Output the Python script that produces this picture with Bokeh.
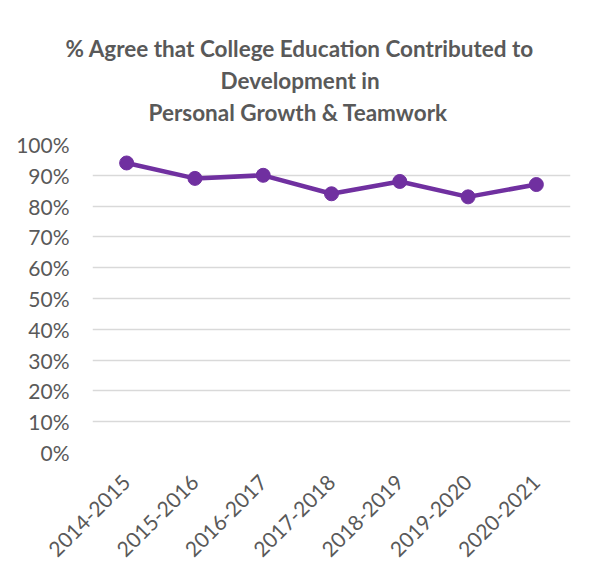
import math
from bokeh.plotting import figure
from bokeh.models import FactorRange, Range1d, NumeralTickFormatter, Title, FixedTicker
from bokeh.embed import file_html
from bokeh.resources import INLINE

years = ["2014-2015", "2015-2016", "2016-2017", "2017-2018", "2018-2019", "2019-2020", "2020-2021"]
agree = [0.94, 0.89, 0.90, 0.84, 0.88, 0.83, 0.87]
title_lines = ["% Agree that College Education Contributed to", "Development in", "Personal Growth & Teamwork"]

FONT = "Lato"
GRAY = "#595959"
PURPLE = "#7030A0"

p = figure(width=597, height=578, x_range=FactorRange(*years, range_padding=0),
           y_range=Range1d(0, 1), output_backend="svg", toolbar_location=None,
           min_border_left=92, min_border_right=27, min_border_top=144, min_border_bottom=126)
p.outline_line_color = None
p.background_fill_color = "white"
p.border_fill_color = "white"

p.line(years, agree, line_color=PURPLE, line_width=4.5)
p.scatter(years, agree, size=14, fill_color=PURPLE, line_color=PURPLE)

p.yaxis.ticker = FixedTicker(ticks=[i / 10 for i in range(11)])
p.yaxis.formatter = NumeralTickFormatter(format="0%")
for ax in (p.xaxis[0], p.yaxis[0]):
    ax.axis_line_color = None
    ax.major_tick_line_color = None
    ax.minor_tick_line_color = None
    ax.major_label_text_color = GRAY
    ax.major_label_text_font = FONT
    ax.major_label_text_font_size = "21px"
p.yaxis.major_label_standoff = 17
p.xaxis.major_label_orientation = math.pi / 4
p.xaxis.major_label_standoff = 20

p.xgrid.grid_line_color = None
p.ygrid.grid_line_color = "#d9d9d9"
p.ygrid.grid_line_width = 1.5

# spacer closest to the frame
p.add_layout(Title(text="\u00a0", text_font_size="6px", standoff=9), "above")
offsets = [-27, 128, 56]
for t, off in reversed(list(zip(title_lines, offsets))):
    p.add_layout(Title(text=t, align="left", offset=off, text_font=FONT, text_font_style="bold",
                       text_font_size="22.5px", text_color=GRAY, standoff=3), "above")

open("out.html", "w").write(file_html(p, INLINE))
